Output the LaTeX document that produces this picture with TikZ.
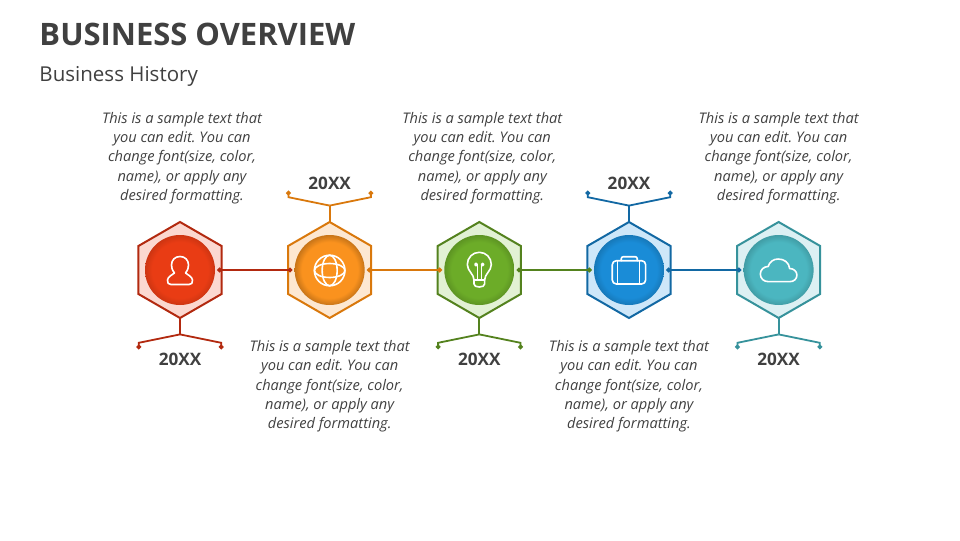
\documentclass[tikz,border=0pt]{standalone}
\usepackage{fontspec}
\setmainfont{Open Sans}
\usetikzlibrary{arrows.meta, positioning, shapes.geometric, calc}
\definecolor{inkgray}{RGB}{64,64,64}
\definecolor{redline}{RGB}{178,41,15}
\definecolor{redfill}{RGB}{251,216,208}
\definecolor{redball}{RGB}{233,60,20}
\definecolor{orangeline}{RGB}{217,120,12}
\definecolor{orangefill}{RGB}{253,232,210}
\definecolor{orangeball}{RGB}{250,146,30}
\definecolor{greenline}{RGB}{84,130,30}
\definecolor{greenfill}{RGB}{226,241,212}
\definecolor{greenball}{RGB}{108,172,40}
\definecolor{blueline}{RGB}{18,104,163}
\definecolor{bluefill}{RGB}{206,231,249}
\definecolor{blueball}{RGB}{26,140,215}
\definecolor{tealline}{RGB}{54,146,155}
\definecolor{tealfill}{RGB}{220,240,243}
\definecolor{tealball}{RGB}{75,182,192}
\pgfdeclareradialshading[discin,discout]{discshade}{\pgfpointorigin}{color(0bp)=(discin); color(20bp)=(discin); color(25bp)=(discout); color(50bp)=(discout)}

\begin{document}
\frenchspacing
\begin{tikzpicture}[
        node distance=0.4cm and 1.6625cm,
        hexbox/.style={regular polygon, regular polygon sides=6, shape border rotate=30, draw=#1line, fill=#1fill, line width=0.5mm, minimum size=2.4cm, inner sep=0, outer sep=0},
        disc/.style={circle, minimum size=1.75cm, inner sep=0, shading=discshade, at={(#1)}},
        desc/.style={text=inkgray, font=\itshape\fontsize{10.4}{13.6}\selectfont, align=center, inner sep=0},
        year/.style={text=inkgray, font=\bfseries\fontsize{12.2}{15}\selectfont, inner sep=0},
        line/.style={draw, line width=0.5mm, shorten <=-1.05mm, shorten >=-1.05mm, {Circle[length=1.15mm]}-{Circle[length=1.15mm]}},
        stem/.style={draw, line width=0.45mm},
        branch/.style={draw, line width=0.45mm, -{Circle[length=1.15mm]}},
        icon/.style={draw=white, line width=0.4mm, line join=round, line cap=round}
    ]
    \useasboundingbox (0,0) rectangle (24,13.5);

    % titel
    \node[text=inkgray, font=\bfseries\fontsize{22}{26}\selectfont, anchor=base west, inner sep=0] (title) at (0.98,12.36) {BUSINESS OVERVIEW};
    \node[text=inkgray, font=\fontsize{14.6}{18}\selectfont, anchor=base west, inner sep=0] (subtitle) at (0.98,11.46) {Business History};

    % hexagons
    \node[hexbox=red] (hexa) at (4.5,6.75) {};
    \node[hexbox=orange, right=of hexa] (hexb) {};
    \node[hexbox=green, right=of hexb] (hexc) {};
    \node[hexbox=blue, right=of hexc] (hexd) {};
    \node[hexbox=teal, right=of hexd] (hexe) {};

    % discs
    \colorlet{discin}{redball}\colorlet{discout}{redball!88!black}
    \node[disc=hexa] (disca) {};
    \colorlet{discin}{orangeball}\colorlet{discout}{orangeball!80!black}
    \node[disc=hexb] (discb) {};
    \colorlet{discin}{greenball}\colorlet{discout}{greenball!86!black}
    \node[disc=hexc] (discc) {};
    \colorlet{discin}{blueball}\colorlet{discout}{blueball!86!black}
    \node[disc=hexd] (discd) {};
    \colorlet{discin}{tealball}\colorlet{discout}{tealball!86!black}
    \node[disc=hexe] (disce) {};

    % connectors
    \path [line, redline] (hexa) -- (hexb);
    \path [line, orangeline] (hexb) -- (hexc);
    \path [line, greenline] (hexc) -- (hexd);
    \path [line, blueline] (hexd) -- (hexe);

    % forks
    \coordinate[below=0.41cm of hexa.south] (forka);
    \coordinate[above=0.41cm of hexb.north] (forkb);
    \coordinate[below=0.41cm of hexc.south] (forkc);
    \coordinate[above=0.41cm of hexd.north] (forkd);
    \coordinate[below=0.41cm of hexe.south] (forke);

    \coordinate[below left=0.37cm and 1.03cm of forka] (tipal);
    \coordinate[below right=0.37cm and 1.03cm of forka] (tipar);
    \coordinate[above left=0.37cm and 1.03cm of forkb] (tipbl);
    \coordinate[above right=0.37cm and 1.03cm of forkb] (tipbr);
    \coordinate[below left=0.37cm and 1.03cm of forkc] (tipcl);
    \coordinate[below right=0.37cm and 1.03cm of forkc] (tipcr);
    \coordinate[above left=0.37cm and 1.03cm of forkd] (tipdl);
    \coordinate[above right=0.37cm and 1.03cm of forkd] (tipdr);
    \coordinate[below left=0.37cm and 1.03cm of forke] (tipel);
    \coordinate[below right=0.37cm and 1.03cm of forke] (tiper);

    \path [stem, redline] (hexa.south) -- (forka);
    \path [branch, redline] (forka) -- ([yshift=1.6mm]tipal) -- (tipal);
    \path [branch, redline] (forka) -- ([yshift=1.6mm]tipar) -- (tipar);
    \path [stem, orangeline] (hexb.north) -- (forkb);
    \path [branch, orangeline] (forkb) -- ([yshift=-1.6mm]tipbl) -- (tipbl);
    \path [branch, orangeline] (forkb) -- ([yshift=-1.6mm]tipbr) -- (tipbr);
    \path [stem, greenline] (hexc.south) -- (forkc);
    \path [branch, greenline] (forkc) -- ([yshift=1.6mm]tipcl) -- (tipcl);
    \path [branch, greenline] (forkc) -- ([yshift=1.6mm]tipcr) -- (tipcr);
    \path [stem, blueline] (hexd.north) -- (forkd);
    \path [branch, blueline] (forkd) -- ([yshift=-1.6mm]tipdl) -- (tipdl);
    \path [branch, blueline] (forkd) -- ([yshift=-1.6mm]tipdr) -- (tipdr);
    \path [stem, tealline] (hexe.south) -- (forke);
    \path [branch, tealline] (forke) -- ([yshift=1.6mm]tipel) -- (tipel);
    \path [branch, tealline] (forke) -- ([yshift=1.6mm]tiper) -- (tiper);

    % years
    \node[year, below=0.46cm of forka] (yeara) {20XX};
    \node[year, above=0.4cm of forkb] (yearb) {20XX};
    \node[year, below=0.46cm of forkc] (yearc) {20XX};
    \node[year, above=0.4cm of forkd] (yeard) {20XX};
    \node[year, below=0.46cm of forke] (yeare) {20XX};

    % texts
    \node[desc, above=0.45cm of hexa.north, xshift=0.05cm] (texta) {This is a sample text that\\you can edit. You can\\change font(size, color,\\name), or apply any\\desired formatting.};
    \node[desc, below=0.56cm of hexb.south] (textb) {This is a sample text that\\you can edit. You can\\change font(size, color,\\name), or apply any\\desired formatting.};
    \node[desc, above=0.45cm of hexc.north, xshift=0.075cm] (textc) {This is a sample text that\\you can edit. You can\\change font(size, color,\\name), or apply any\\desired formatting.};
    \node[desc, below=0.56cm of hexd.south] (textd) {This is a sample text that\\you can edit. You can\\change font(size, color,\\name), or apply any\\desired formatting.};
    \node[desc, above=0.45cm of hexe.north] (texte) {This is a sample text that\\you can edit. You can\\change font(size, color,\\name), or apply any\\desired formatting.};

    % icons, drawn in pixels around each hexagon
    \begin{scope}[shift={(hexa.center)}, x=0.025cm, y=-0.025cm]
        \draw[icon] (-9,14.5) -- (9,14.5) .. controls (11.5,14.5) and (13,13) .. (12.5,10) .. controls (12,6.5) and (8,5) .. (5.5,3) .. controls (8,0) and (8.5,-3) .. (8.5,-5) .. controls (8.5,-10) and (5,-13.5) .. (0,-13.5) .. controls (-5,-13.5) and (-8.5,-10) .. (-8.5,-5) .. controls (-8.5,-3) and (-8,0) .. (-5.5,3) .. controls (-8,5) and (-12,6.5) .. (-12.5,10) .. controls (-13,13) and (-11.5,14.5) .. (-9,14.5) -- cycle;
    \end{scope}
    \begin{scope}[shift={(hexb.center)}, x=0.025cm, y=-0.025cm]
        \draw[icon] (0,0.5) circle (15.3);
        \draw[icon] (0,0.5) ellipse (7.5 and 15.3);
        \draw[icon] (0,0.5) ellipse (15.3 and 7);
    \end{scope}
    \begin{scope}[shift={(hexc.center)}, x=0.025cm, y=-0.025cm]
        \draw[icon] (-5.3,10) .. controls (-5.3,4) and (-12,1) .. (-12,-5.5) .. controls (-12,-12.5) and (-6.5,-17.7) .. (0,-17.7) .. controls (6.5,-17.7) and (12,-12.5) .. (12,-5.5) .. controls (12,1) and (5.3,4) .. (5.3,10) -- cycle;
        \draw[icon] (-5.3,10) -- (-5.3,14) .. controls (-5.3,16) and (-3,17) .. (0,17) .. controls (3,17) and (5.3,16) .. (5.3,14) -- (5.3,10);
        \draw[icon] (-2,10) -- (-2,-4.5) (2,10) -- (2,-4.5);
        \draw[icon] (-3.3,-5.5) circle (1.2) (3.3,-5.5) circle (1.2);
    \end{scope}
    \begin{scope}[shift={(hexd.center)}, x=0.025cm, y=-0.025cm]
        \draw[icon, rounded corners=1mm] (-16.7,-9.3) rectangle (16.7,14);
        \draw[icon, rounded corners=0.5mm] (-7.7,-9.3) -- (-7.7,-13.3) -- (8.3,-13.3) -- (8.3,-9.3);
        \draw[icon, line width=0.25mm] (-11,-9.3) -- (-11,14) (11,-9.3) -- (11,14);
    \end{scope}
    \begin{scope}[shift={(hexe.center)}, x=0.025cm, y=-0.025cm]
        \draw[icon] (-10,11.7) -- (11,11.7) .. controls (15.5,11.7) and (18.3,8.7) .. (18.3,5) .. controls (18.3,1.5) and (15,-1.5) .. (11,-1.5) .. controls (10.5,-7.5) and (5.5,-11) .. (-0.5,-11) .. controls (-5,-11) and (-9,-8.5) .. (-10.5,-3.5) .. controls (-15,-3.5) and (-18.3,0) .. (-18.3,4) .. controls (-18.3,8.5) and (-15,11.7) .. (-10,11.7) -- cycle;
    \end{scope}
\end{tikzpicture}
\end{document}
